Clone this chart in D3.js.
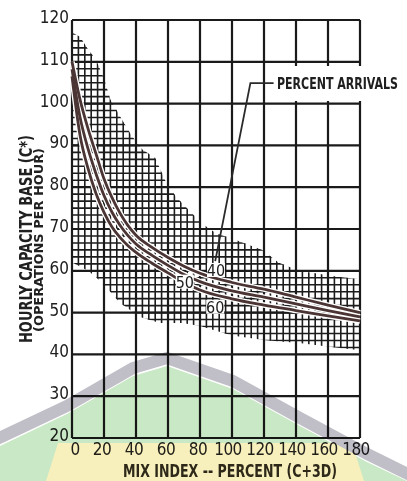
<!DOCTYPE html>
<html>
<head>
<meta charset="utf-8">
<script src="https://cdn.jsdelivr.net/npm/d3@7"></script>
<style>
  body { margin: 0; background: #fff; }
  svg { display: block; }
  text { font-family: "Liberation Sans Narrow", "DejaVu Sans Condensed", "Noto Sans", sans-serif; fill: #202020; }
</style>
</head>
<body>
<svg></svg>
<script>
// mix index (C+3D) positions where the curves were read
var mixIndex = [0, 5, 10, 15, 20, 25, 30, 35, 40, 50, 60, 70, 80, 100, 120, 140, 160, 180];

// hourly capacity base C* for each percent arrivals
var arrivals40 = [110, 101, 94, 88, 82, 77.5, 73.8, 70.8, 68.5, 65.6, 63.2, 61.1, 59.4, 57.2, 55.6, 53.7, 51.8, 50];
var arrivals50 = [108.2, 96.8, 89.2, 83.2, 78, 74, 70.9, 68.4, 66.4, 63.7, 61.3, 59.1, 57.4, 55.2, 53.7, 52.1, 50.5, 49];
var arrivals60 = [106.5, 92.5, 84.5, 78.5, 74, 70.5, 68, 66, 64.4, 61.8, 59.5, 57.2, 55.4, 53.3, 51.8, 50.5, 49.2, 48];

var seriesNames = ["40", "50", "60"];

// shaded (cross hatched) band, upper and lower edge
var bandUpper = [[0, 117], [5, 116], [10, 113], [15, 110.5], [20, 106], [24, 101], [30, 97], [37, 92.5],
                 [44, 89], [52, 87], [59, 81], [65, 77.7], [73, 74.5], [81, 71.4], [90, 69], [102, 67.4],
                 [119, 65], [129, 62], [142, 60], [166, 58.6], [180, 58]];
var bandLower = [[0, 62], [5, 61], [10, 60], [15, 58.5], [20, 56.5], [24, 55], [30, 52.3], [34, 51.3],
                 [42, 49], [55, 47.5], [69, 47.5], [80, 46.8], [100, 44.5], [121, 43.4], [142, 42.7],
                 [162, 41.8], [180, 41]];

var xTicks = [0, 20, 40, 60, 80, 100, 120, 140, 160, 180];
var yTicks = [20, 30, 40, 50, 60, 70, 80, 90, 100, 110, 120];

var svg = d3.select("svg")
            .attr("width", 407)
            .attr("height", 481);

svg.append("rect")
   .attr("width", 407)
   .attr("height", 481)
   .attr("fill", "#fff");

var xScale = d3.scaleLinear()
               .domain([0, 180])
               .range([72, 360]);

var yScale = d3.scaleLinear()
               .domain([20, 120])
               .range([438, 20]);

var chart = svg.append("g");

// cross hatching, clipped to the band
var bandPoly = bandUpper.concat(bandLower.slice().reverse());
chart.append("clipPath")
     .attr("id", "band")
     .append("path")
     .attr("d", d3.line().x(function(d) { return xScale(d[0]); })
                         .y(function(d) { return yScale(d[1]); })(bandPoly) + "Z");

var hatch = chart.append("g")
                 .attr("clip-path", "url(#band)")
                 .attr("stroke", "#1c1c1c")
                 .attr("stroke-width", 1.6);

hatch.selectAll("line.hv")
     .data(d3.range(0, 181, 4))
     .enter()
     .append("line")
     .attr("x1", function(d) { return xScale(d); })
     .attr("x2", function(d) { return xScale(d); })
     .attr("y1", yScale(20))
     .attr("y2", yScale(120));

hatch.selectAll("line.hh")
     .data(d3.range(0, 61).map(function(i) { return 20 + i * 10 / 6; }))
     .enter()
     .append("line")
     .attr("x1", xScale(0))
     .attr("x2", xScale(180))
     .attr("y1", function(d) { return yScale(d); })
     .attr("y2", function(d) { return yScale(d); });

// main grid
var grid = chart.append("g")
                .attr("stroke", "#1a1a1a")
                .attr("stroke-width", 2.2);

grid.selectAll("line.gx")
    .data(xTicks)
    .enter()
    .append("line")
    .attr("x1", function(d) { return xScale(d); })
    .attr("x2", function(d) { return xScale(d); })
    .attr("y1", yScale(20))
    .attr("y2", yScale(120));

grid.selectAll("line.gy")
    .data(yTicks)
    .enter()
    .append("line")
    .attr("x1", xScale(0))
    .attr("x2", xScale(180))
    .attr("y1", function(d) { return yScale(d); })
    .attr("y2", function(d) { return yScale(d); });

// curves
var curves = [arrivals40, arrivals50, arrivals60];
var line = d3.line()
             .x(function(d, i) { return xScale(mixIndex[i]); })
             .y(function(d) { return yScale(d); })
             .curve(d3.curveMonotoneX);

chart.selectAll("path.under")
     .data(curves)
     .enter()
     .append("path")
     .attr("d", line)
     .attr("fill", "none")
     .attr("stroke", "#fff")
     .attr("stroke-width", 5.5);

chart.selectAll("path.curve")
     .data(curves)
     .enter()
     .append("path")
     .attr("d", line)
     .attr("fill", "none")
     .attr("stroke", "#4b3434")
     .attr("stroke-width", 2.8);

// curve labels
var curveLabels = [{name: seriesNames[0], x: 90, y: 60.2},
                   {name: seriesNames[1], x: 70.5, y: 57.4},
                   {name: seriesNames[2], x: 89.5, y: 51.4}];

var lab = chart.selectAll("g.lab")
               .data(curveLabels)
               .enter()
               .append("g")
               .attr("transform", function(d) { return "translate(" + xScale(d.x) + "," + yScale(d.y) + ")"; });
lab.append("rect")
   .attr("x", -9).attr("y", -7).attr("width", 18).attr("height", 14)
   .attr("fill", "#fff");
lab.append("text")
   .attr("text-anchor", "middle")
   .attr("y", 6)
   .attr("font-size", 16)
   .text(function(d) { return d.name; });

// legend label with leader
chart.append("rect")
     .attr("x", 272).attr("y", 66)
     .attr("width", 135).attr("height", 35)
     .attr("fill", "#fff");

chart.append("path")
     .attr("d", d3.line()([[xScale(126), yScale(104.9)], [xScale(111.5), yScale(104.9)], [xScale(89.5), yScale(62.3)]]))
     .attr("fill", "none")
     .attr("stroke", "#2a2a2a")
     .attr("stroke-width", 1.8);

// squeeze the label to the width it has in the scan
var legendText = chart.append("text")
                      .attr("font-size", 15)
                      .attr("font-weight", "bold")
                      .text("PERCENT ARRIVALS");
var natural = legendText.node().getComputedTextLength();
legendText.attr("transform", "translate(277,89) scale(" + (121 / natural) + ",1)");

// tick labels
chart.selectAll("text.yt")
     .data(yTicks)
     .enter()
     .append("text")
     .attr("x", 69)
     .attr("y", function(d) { return yScale(d) + 3; })
     .attr("text-anchor", "end")
     .attr("font-size", 17)
     .text(function(d) { return d; });

chart.selectAll("text.xt")
     .data(xTicks)
     .enter()
     .append("text")
     .attr("x", function(d) { return xScale(d) + (d >= 100 ? -4 : d > 0 ? -2 : 3); })
     .attr("y", 455)
     .attr("text-anchor", "middle")
     .attr("font-size", 17)
     .attr("letter-spacing", -0.5)
     .text(function(d) { return d; });

// axis titles
chart.append("text")
     .attr("x", 230)
     .attr("y", 477)
     .attr("text-anchor", "middle")
     .attr("font-family", "'Liberation Serif', serif")
     .attr("font-weight", "bold")
     .attr("font-size", 17)
     .attr("textLength", 214)
     .attr("lengthAdjust", "spacingAndGlyphs")
     .style("fill", "#2e2a20")
     .text("MIX INDEX -- PERCENT (C+3D)");

chart.append("text")
     .attr("transform", "translate(32,239) rotate(-90)")
     .attr("text-anchor", "middle")
     .attr("font-size", 18)
     .attr("font-weight", "bold")
     .attr("textLength", 208)
     .attr("lengthAdjust", "spacingAndGlyphs")
     .text("HOURLY CAPACITY BASE  (C*)");

chart.append("text")
     .attr("transform", "translate(43,240) rotate(-90)")
     .attr("text-anchor", "middle")
     .attr("font-size", 12)
     .attr("font-weight", "bold")
     .attr("textLength", 184)
     .attr("lengthAdjust", "spacingAndGlyphs")
     .text("(OPERATIONS PER HOUR)");

// faint watermark printed over the scan
var mark = svg.append("g")
              .style("mix-blend-mode", "multiply");

mark.append("path")
    .attr("d", "M0,446 L67,414 L133,376 L167,366 L233,389 L300,426 L367,462 L407,481 L0,481 Z")
    .attr("fill", "#c9e8c5");

mark.append("path")
    .attr("d", "M46,481 L58,443 L352,443 L364,481 Z")
    .attr("fill", "#f7f0bd");

mark.append("path")
    .attr("d", "M-5,440 L67,406 L133,368 L167,358 L233,381 L300,418 L367,454 L412,476")
    .attr("fill", "none")
    .attr("stroke", "#c0bec7")
    .attr("stroke-width", 12);
</script>
</body>
</html>
